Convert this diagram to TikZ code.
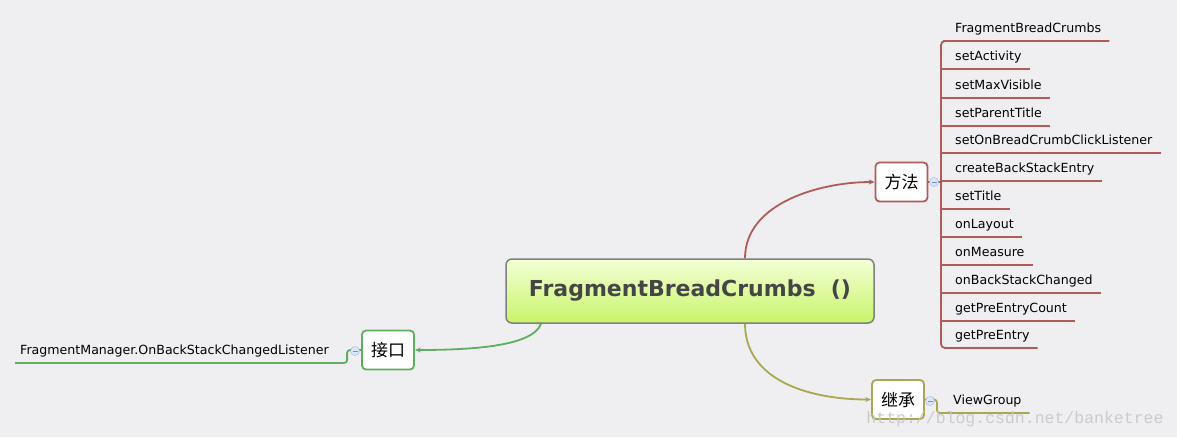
\documentclass[tikz,border=0pt]{standalone}
\usepackage{fontspec}
\setmainfont{DejaVu Sans}
\newfontfamily\cjk{Noto Sans CJK SC}
\newfontfamily\wmfont{Liberation Mono}
\usetikzlibrary{arrows.meta}
\definecolor{bg}{HTML}{EFEFF1}
\definecolor{meth}{HTML}{B05A5A}
\definecolor{iface}{HTML}{5FAE5F}
\definecolor{inh}{HTML}{A8A852}
\definecolor{rootline}{HTML}{7F7F7F}
\definecolor{roottop}{HTML}{F3FFD6}
\definecolor{rootbot}{HTML}{C9F46A}
\definecolor{roottext}{HTML}{454545}
\definecolor{foldfill}{HTML}{DCE6FA}
\definecolor{foldline}{HTML}{9AB3E8}
\begin{document}
\begin{tikzpicture}[x=1pt,y=-1pt,
    root/.style={draw=rootline, line width=1.5pt, rounded corners=6pt,
      top color=roottop, bottom color=rootbot, text=roottext,
      minimum width=368pt, minimum height=64pt,
      font=\fontsize{22}{26}\selectfont\bfseries},
    topic/.style={draw=#1, line width=1.8pt, fill=white, rounded corners=4pt,
      minimum width=52pt, minimum height=39pt, inner sep=0pt,
      font=\cjk\fontsize{17}{20}\selectfont},
    item/.style={anchor=south west, inner xsep=8pt, inner ysep=5pt,
      text height=9.5pt, text depth=3pt, font=\fontsize{12.6}{15}\selectfont},
    fold/.style={circle, draw=foldline, fill=foldfill, minimum size=9pt, inner sep=0pt,
      path picture={\draw[foldline!80!black] ([xshift=-2.5pt]path picture bounding box.center) -- ++(5pt,0);}},
    branch/.style={draw=#1, line width=1.8pt}
  ]
  \useasboundingbox[fill=bg] (0,0) rectangle (1177,437);

  % central topic and the three branches
  \node[root] (root) at (690,291) {FragmentBreadCrumbs\ \ ()};
  \node[topic=meth] (fa) at (901.5,182) {方法};
  \node[topic=inh] (ji) at (898,399.5) {继承};
  \node[topic=iface] (jk) at (388,350) {接口};

  % methods
  \coordinate (brk) at (941,41);
  \node[item] (m1) at (947,41) {FragmentBreadCrumbs};
  \node[item] (m2) at (947,69) {setActivity};
  \node[item] (m3) at (947,98) {setMaxVisible};
  \node[item] (m4) at (947,126) {setParentTitle};
  \node[item] (m5) at (947,153) {setOnBreadCrumbClickListener};
  \node[item] (m6) at (947,181) {createBackStackEntry};
  \node[item] (m7) at (947,209) {setTitle};
  \node[item] (m8) at (947,237) {onLayout};
  \node[item] (m9) at (947,265) {onMeasure};
  \node[item] (m10) at (947,293) {onBackStackChanged};
  \node[item] (m11) at (947,321) {getPreEntryCount};
  \node[item] (m12) at (947,348) {getPreEntry};

  % inheritance and interface
  \node[item] (vg) at (945,413) {ViewGroup};
  \node[item, inner xsep=5pt] (fml) at (15,363) {FragmentManager.OnBackStackChangedListener};

  \begin{scope}[branch=meth]
    \draw[rounded corners=4pt] (m1.south east) -- (m1.south west) -| (m12.south west -| brk) -- (m12.south east);
    \draw (m2.south west -| brk) -- (m2.south east);
    \draw (m3.south west -| brk) -- (m3.south east);
    \draw (m4.south west -| brk) -- (m4.south east);
    \draw (m5.south west -| brk) -- (m5.south east);
    \draw (m6.south west -| brk) -- (m6.south east);
    \draw (m7.south west -| brk) -- (m7.south east);
    \draw (m8.south west -| brk) -- (m8.south east);
    \draw (m9.south west -| brk) -- (m9.south east);
    \draw (m10.south west -| brk) -- (m10.south east);
    \draw (m11.south west -| brk) -- (m11.south east);
    \draw (fa.east) -- (fa.east -| brk);
    \draw[-{Stealth[length=6pt,width=5pt]}] ([xshift=55pt]root.north) .. controls +(0,-55) and +(-55,0) .. (fa.west);
  \end{scope}
  \begin{scope}[branch=inh]
    \draw[rounded corners=3pt] (ji.east) -- ++(12,0) |- (vg.south east);
    \draw[-{Stealth[length=6pt,width=5pt]}] ([xshift=55pt]root.south) .. controls +(0,55) and +(-65,0) .. (ji.west);
  \end{scope}
  \begin{scope}[branch=iface]
    \draw[rounded corners=3pt] (jk.west) -- ++(-14,0) |- (fml.south west);
    \draw[-{Stealth[length=6pt,width=5pt]}] ([xshift=-149pt]root.south) .. controls +(-8,22) and +(60,0) .. (jk.east);
  \end{scope}

  % fold markers
  \node[fold] (mc) at (934,182) {};
  \node[fold] (jc) at (930,401) {};
  \node[fold] (kc) at (355,351) {};

  \node[font=\wmfont\fontsize{16.5}{18}\selectfont, text=black!22, opacity=0.9] (wm) at (1015,419) {http://blog.csdn.net/banketree};
\end{tikzpicture}
\end{document}
